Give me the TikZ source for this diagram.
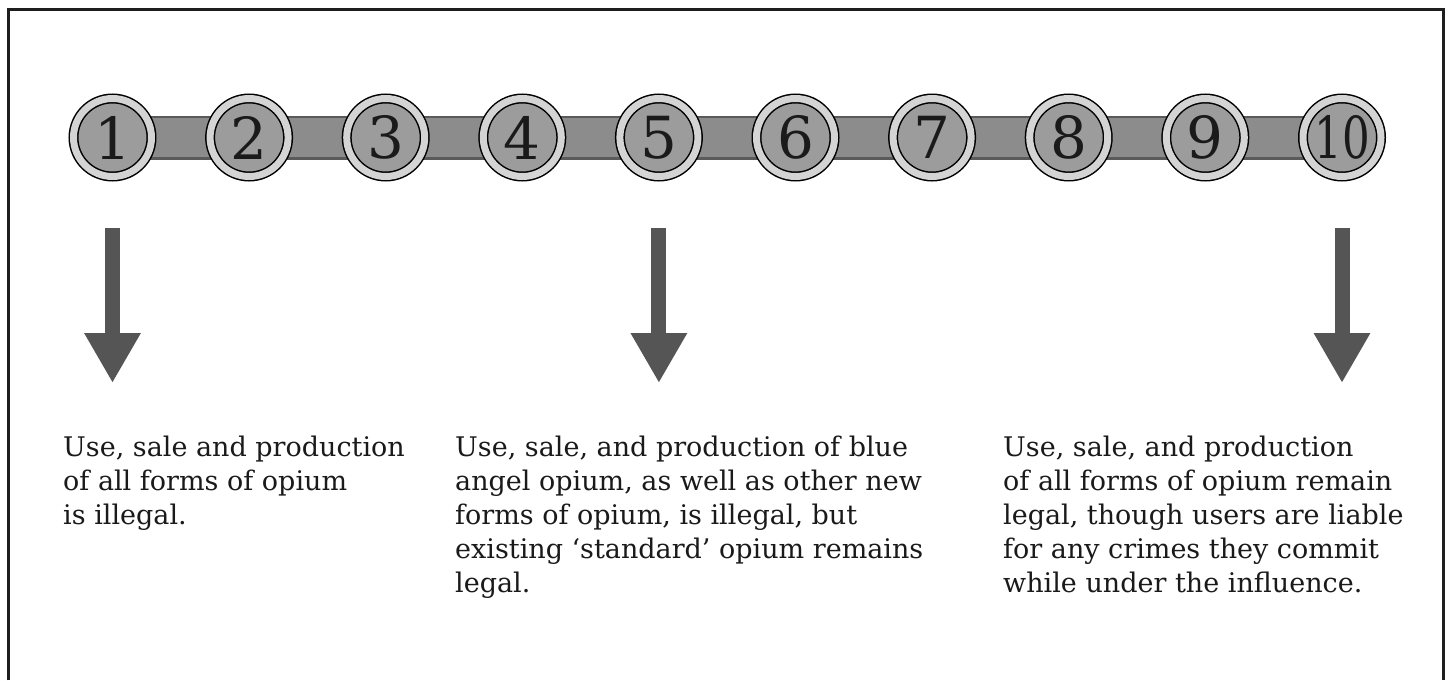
\documentclass[tikz,border=0pt]{standalone}
\usepackage{fontspec}
\setmainfont{DejaVu Serif}
\usetikzlibrary{arrows.meta,backgrounds}
\definecolor{bargray}{HTML}{8C8C8C}
\definecolor{bardark}{HTML}{5A5A5A}
\definecolor{ringgray}{HTML}{D4D4D4}
\definecolor{discgray}{HTML}{9C9C9C}
\definecolor{arrowgray}{HTML}{555555}
\definecolor{framegray}{HTML}{1E1E1E}
\definecolor{textgray}{HTML}{1A1A1A}
\tikzset{
  disc/.style={circle, minimum size=78pt, inner sep=0pt, draw=black, line width=1.5pt,
    double=ringgray, double distance=7pt, fill=discgray, text=textgray,
    font=\fontsize{58}{58}\selectfont},
  downarrow/.style={draw=arrowgray, line width=15pt, -{Triangle[length=50pt,width=53pt]}},
  txt/.style={anchor=north west, align=left, inner sep=0pt, text=textgray,
    font=\fontsize{27}{34}\selectfont},
  frame/.style={draw=framegray, line width=3pt},
}
\begin{document}
\begin{tikzpicture}[x=1pt,y=-1pt]
\useasboundingbox (0,0) rectangle (1448,680);
% circles
\foreach \i in {1,...,9}
  \node[disc] (c\i) at ({112.5+(\i-1)*136.6},137.5) {\i};
\node[disc] (c10) at (1342,137.5) {\scalebox{0.75}[1]{10}};
% bar behind circles
\begin{scope}[on background layer]
  \fill[white] (0,0) rectangle (1448,680);
  \draw[bardark, line width=44pt] (c1.center) -- (c10.center);
  \draw[bargray, line width=39pt] (c1.center) -- (c10.center);
\end{scope}
% frame
\draw[frame] (8.5,680) -- (8.5,9.5) -- (1443,9.5) -- (1443,680);
% arrows
\foreach \i in {1,5,10} {
  \path (c\i.center) ++(0,90.5) coordinate (a\i s);
  \path (c\i.center) ++(0,245.5) coordinate (a\i e);
  \draw[downarrow] (a\i s) -- (a\i e);
}
% texts
\node[txt] (t1) at (63,436) {Use, sale and production\\of all forms of opium\\is illegal.};
\node[txt] (t5) at (455,436) {Use, sale, and production of blue\\angel opium, as well as other new\\forms of opium, is illegal, but\\existing `standard' opium remains\\legal.};
\node[txt] (t10) at (1003,436) {Use, sale, and production\\of all forms of opium remain\\legal, though users are liable\\for any crimes they commit\\while under the influence.};
\end{tikzpicture}
\end{document}
